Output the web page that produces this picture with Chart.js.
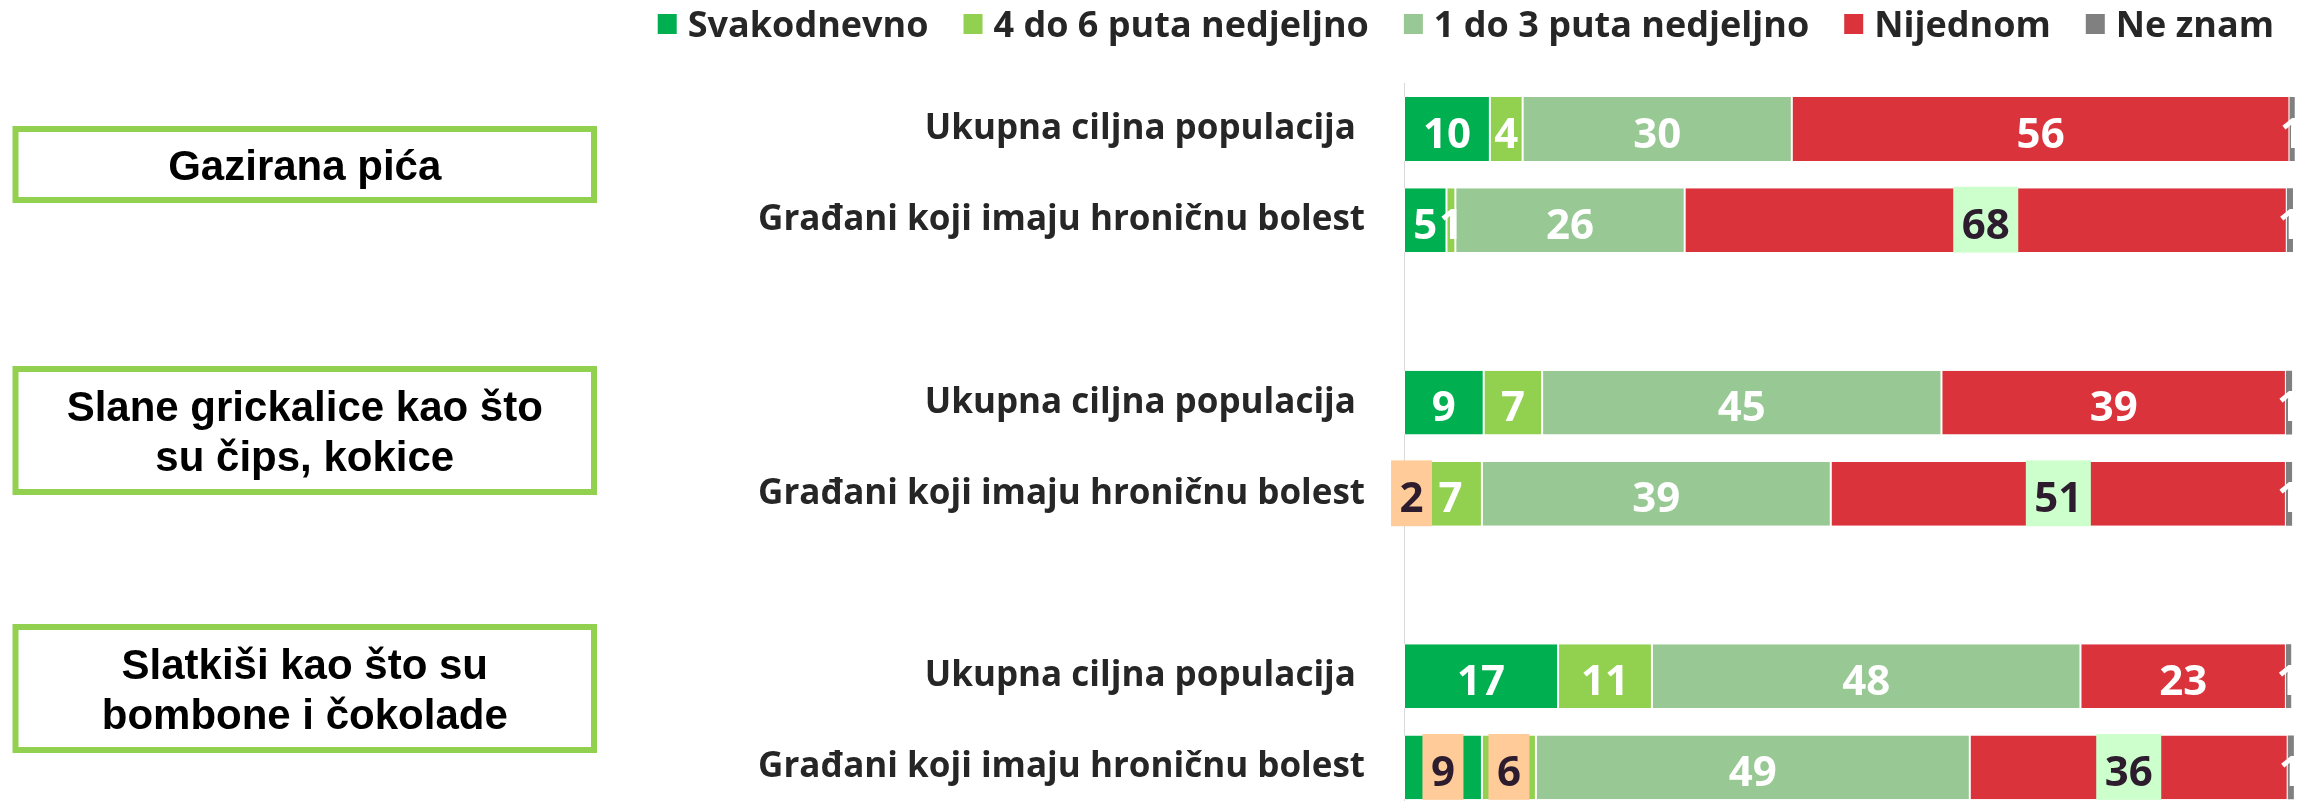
<!DOCTYPE html>
<html>
<head>
<meta charset="utf-8">
<script src="https://cdn.jsdelivr.net/npm/chart.js@4.4.0/dist/chart.umd.min.js"></script>
<style>
  html, body { margin: 0; padding: 0; background: #fff; overflow: hidden; }
  #wrap { position: relative; width: 2316px; height: 813px; }
</style>
</head>
<body>
<div id="wrap"><canvas id="chart" width="2316" height="813"></canvas></div>
<script>
// rows: 3 groups x 2 populations, with an empty slot between groups
const categories = [
  'Ukupna ciljna populacija ', 'Građani koji imaju hroničnu bolest', '',
  'Ukupna ciljna populacija ', 'Građani koji imaju hroničnu bolest', '',
  'Ukupna ciljna populacija ', 'Građani koji imaju hroničnu bolest'
];
const seriesNames = ['Svakodnevno', '4 do 6 puta nedjeljno', '1 do 3 puta nedjeljno', 'Nijednom', 'Ne znam'];

const svakodnevno  = [9.7, 4.8, null, 9.0, 1.7, null, 17.4, 8.8];
const cetiriDoSest = [3.7, 1.0, null, 6.6, 7.1, null, 10.6, 6.1];
const jedanDoTri   = [30.4, 25.9, null, 45.1, 39.4, null, 48.4, 49.0];
const nijednom     = [56.2, 68.0, null, 38.9, 51.4, null, 23.2, 35.9];
const neZnam       = [0.6, 0.7, null, 0.7, 0.7, null, 0.6, 0.7];

const groupTitles = [
  ['Gazirana pića'],
  ['Slane grickalice kao što', 'su čips, kokice'],
  ['Slatkiši kao što su', 'bombone i čokolade']
];

const colors = ['#00B050', '#92D050', '#98C893', '#DA333B', '#808080'];

// labels that the original shows on a coloured patch
const labelHighlights = [
  { row: 1, series: 3, fill: '#CCFFCC' },
  { row: 4, series: 0, fill: '#FFCC99' },
  { row: 4, series: 3, fill: '#CCFFCC' },
  { row: 7, series: 0, fill: '#FFCC99' },
  { row: 7, series: 1, fill: '#FFCC99' },
  { row: 7, series: 3, fill: '#CCFFCC' }
];

// left-hand boxes (layout only)
const groupBoxes = [
  { left: 12.5, right: 597, top: 126, bottom: 203 },
  { left: 12.5, right: 597, top: 366, bottom: 495 },
  { left: 12.5, right: 597, top: 624, bottom: 753 }
];

Chart.defaults.font.family = '"Open Sans", sans-serif';

const valueLabels = {
  id: 'valueLabels',
  afterDatasetsDraw(chart) {
    const ctx = chart.ctx;
    ctx.save();
    ctx.font = 'bold 42px "Open Sans"';
    ctx.textAlign = 'center';
    ctx.textBaseline = 'alphabetic';
    chart.data.datasets.forEach((ds, i) => {
      const meta = chart.getDatasetMeta(i);
      meta.data.forEach((bar, j) => {
        const v = ds.data[j];
        if (v == null) return;
        const cx = (bar.x + bar.base) / 2;
        const text = String(Math.round(v));
        const hl = labelHighlights.find(h => h.row === j && h.series === i);
        if (hl) {
          const w = ctx.measureText(text).width + 17;
          ctx.fillStyle = hl.fill;
          ctx.fillRect(cx - w / 2, bar.y - bar.height / 2 - 1.5, w, bar.height + 2);
          ctx.fillStyle = '#2D1B2E';
        } else {
          ctx.fillStyle = '#FFFFFF';
        }
        ctx.fillText(text, cx, bar.y + 18.5);
      });
    });
    ctx.restore();
  }
};

const sideBoxes = {
  id: 'sideBoxes',
  afterDraw(chart) {
    const ctx = chart.ctx;
    ctx.save();
    groupBoxes.forEach((b, k) => {
      ctx.strokeStyle = '#92D050';
      ctx.lineWidth = 6;
      ctx.strokeRect(b.left + 3, b.top + 3, b.right - b.left - 6, b.bottom - b.top - 6);
      const lines = groupTitles[k];
      const cx = (b.left + b.right) / 2;
      const cy = (b.top + b.bottom) / 2;
      ctx.font = 'bold 42px "Liberation Sans", Arial, sans-serif';
      ctx.fillStyle = '#000000';
      ctx.textAlign = 'center';
      ctx.textBaseline = 'alphabetic';
      lines.forEach((line, n) => {
        ctx.fillText(line, cx, cy - (lines.length - 1) * 25 + n * 50 + 15);
      });
    });
    ctx.restore();
  }
};

const topLegend = {
  id: 'topLegend',
  afterDraw(chart) {
    const ctx = chart.ctx;
    ctx.save();
    ctx.font = 'bold 36px "Open Sans"';
    ctx.textBaseline = 'alphabetic';
    ctx.textAlign = 'left';
    let x = 2274;
    const items = chart.data.datasets.slice().reverse();
    items.forEach(ds => {
      const tw = ctx.measureText(ds.label).width;
      const textLeft = x - tw;
      ctx.fillStyle = '#262626';
      ctx.fillText(ds.label, textLeft, 36.5);
      ctx.fillStyle = ds.backgroundColor;
      ctx.fillRect(textLeft - 11 - 19, 14, 19, 20);
      x = textLeft - 11 - 19 - 35;
    });
    ctx.restore();
  }
};

const seriesData = [svakodnevno, cetiriDoSest, jedanDoTri, nijednom, neZnam];

new Chart(document.getElementById('chart'), {
  type: 'bar',
  data: {
    labels: categories,
    datasets: seriesNames.map((name, i) => ({
      label: name,
      data: seriesData[i],
      backgroundColor: colors[i],
      borderColor: '#FFFFFF',
      borderWidth: i === 4 ? 0 : { left: 1, right: 1, top: 0, bottom: 0 },
      borderSkipped: false,
      categoryPercentage: 1,
      barPercentage: 0.7
    }))
  },
  options: {
    indexAxis: 'y',
    responsive: false,
    animation: false,
    layout: { padding: { top: 83.4, right: 0, bottom: 0, left: 0 } },
    plugins: {
      legend: { display: false },
      tooltip: { enabled: false }
    },
    scales: {
      x: { stacked: true, display: false, min: 0, max: 103 },
      y: {
        stacked: true,
        grid: { display: false, drawTicks: false },
        border: { display: true, color: '#D9D9D9', width: 1 },
        ticks: {
          color: '#262626',
          padding: 39,
          font: { size: 35, weight: 'bold' }
        },
        afterFit(scale) {
          scale.width = 1404;
          scale.paddingTop = 0;
          scale.paddingBottom = 0;
        }
      }
    }
  },
  plugins: [valueLabels, sideBoxes, topLegend]
});
</script>
</body>
</html>
